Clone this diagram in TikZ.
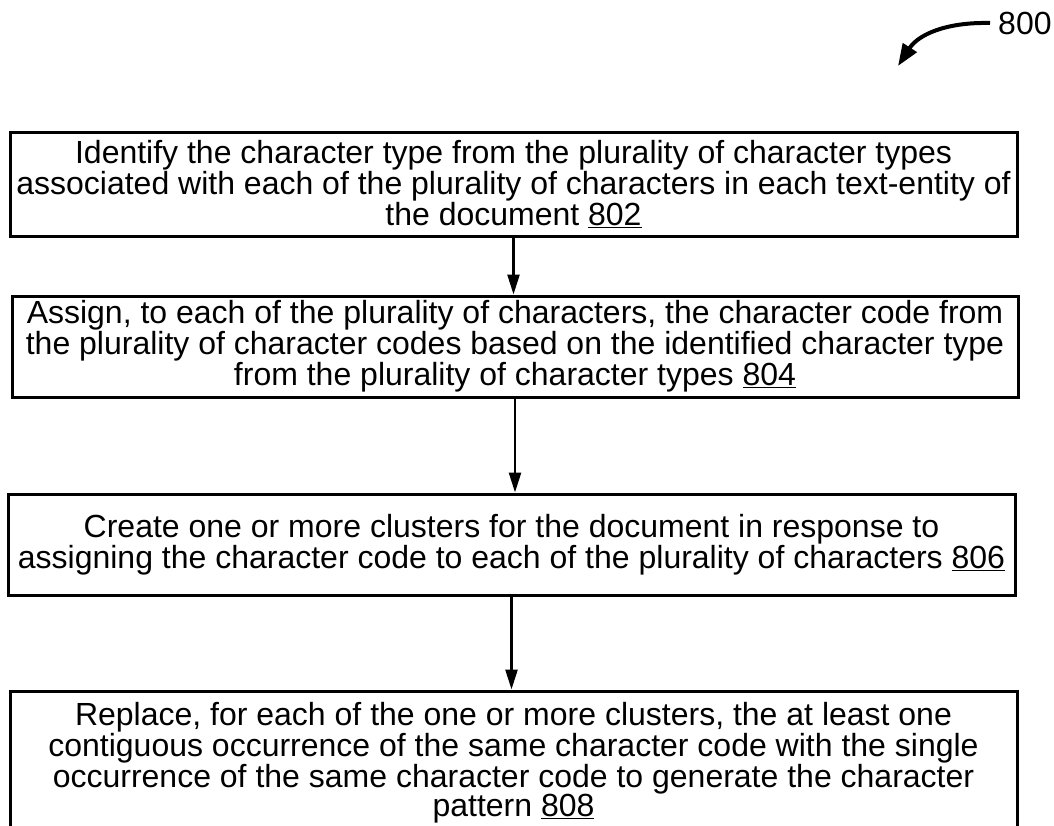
\documentclass[tikz,border=0pt]{standalone}
\usepackage{fontspec}
\setmainfont{Liberation Sans}
\usepackage{tikz}
\usetikzlibrary{arrows.meta, positioning, calc}

\tikzset{
  stepbox/.style={draw, line width=3pt, minimum width=1007pt, align=center,
    inner sep=0pt, font=\fontsize{32}{29.6}\selectfont},
  flow/.style={-{Triangle[length=20pt,width=12pt]}, line width=2.5pt}
}

\begin{document}
\begin{tikzpicture}[x=1pt, y=-1pt]
\useasboundingbox (0,0) rectangle (1054,825);

% steps of the method
\node[stepbox, minimum height=104pt] (s802) at (513.5,184) {Identify the character type from the plurality of character types\\associated with each of the plurality of characters in each text-entity of\\the document \underline{802}};
\node[stepbox, minimum height=101pt, minimum width=1006pt] (s804) at (515,346.5) {Assign, to each of the plurality of characters, the character code from\\the plurality of character codes based on the identified character type\\from the plurality of character types \underline{804}};
\node[stepbox, minimum height=101pt] (s806) at (511.5,544.5) {Create one or more clusters for the document in response to\\assigning the character code to each of the plurality of characters \underline{806}};
\node[stepbox, minimum height=144pt] (s808) at (513.5,763) {Replace, for each of the one or more clusters, the at least one\\contiguous occurrence of the same character code with the single\\occurrence of the same character code to generate the character\\pattern \underline{808}};

\draw[flow] (s802.south) -- (s802.south |- s804.north);
\draw[flow] (s804.south) -- (s804.south |- s806.north);
\draw[flow] (s806.south) -- (s806.south |- s808.north);

% figure label
\node[anchor=west, inner sep=0pt, font=\fontsize{32}{29.6}\selectfont] (fig) at (998,23) {800};
\coordinate (figtip) at (898,66);
\draw[-{Triangle[length=22pt,width=16pt]}, line width=4pt] ($(fig.west)+(-8,0)$) .. controls (945,22) and (918,35) .. (figtip);
\end{tikzpicture}
\end{document}
